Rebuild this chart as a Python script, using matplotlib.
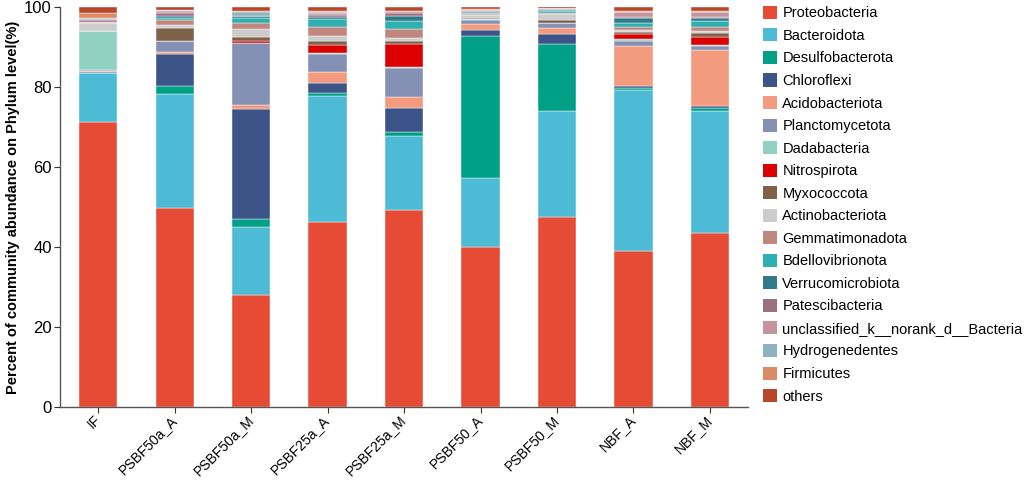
import matplotlib
matplotlib.use("Agg")
import matplotlib.pyplot as plt
import numpy as np
from matplotlib.patches import Patch

plt.rcParams['font.family'] = ['Liberation Sans', 'DejaVu Sans']

samples = ["IF", "PSBF50a_A", "PSBF50a_M", "PSBF25a_A", "PSBF25a_M",
           "PSBF50_A", "PSBF50_M", "NBF_A", "NBF_M"]

phyla = ["Proteobacteria", "Bacteroidota", "Desulfobacterota", "Chloroflexi",
         "Acidobacteriota", "Planctomycetota", "Dadabacteria", "Nitrospirota",
         "Myxococcota", "Actinobacteriota", "Gemmatimonadota", "Bdellovibrionota",
         "Verrucomicrobiota", "Patescibacteria", "unclassified_k__norank_d__Bacteria",
         "Hydrogenedentes", "Firmicutes", "others"]

colors = ["#E64B35", "#4DBBD5", "#00A087", "#3C5488", "#F39B7F", "#8491B4",
          "#91D1C2", "#DC0000", "#7E6148", "#CCCCCC", "#C0877E", "#2FB0B0",
          "#32798A", "#9B7182", "#C4959F", "#8DB3BF", "#DA8B66", "#B8462A"]

# abundance (%) per phylum, in sample order
proteobacteria    = [71.3, 49.8, 28.0, 46.25, 49.25, 40.0, 47.5, 39.0, 43.5]
bacteroidota      = [12.1, 28.4, 16.9, 31.5, 18.5, 17.25, 26.6, 40.3, 30.5]
desulfobacterota  = [0.05, 2.0, 2.0, 0.65, 1.1, 35.5, 16.6, 0.5, 0.65]
chloroflexi       = [0.3, 8.0, 27.6, 2.7, 5.85, 1.45, 2.5, 0.45, 0.6]
acidobacteriota   = [0.3, 0.55, 1.0, 2.7, 2.9, 1.6, 1.65, 10.15, 14.15]
planctomycetota   = [0.2, 2.75, 15.6, 4.4, 7.25, 1.1, 1.15, 1.1, 1.0]
dadabacteria      = [9.7, 0.05, 0.05, 0.3, 0.1, 0.05, 0.05, 0.6, 0.1]
nitrospirota      = [0.05, 0.05, 0.3, 2.0, 5.85, 0.05, 0.05, 1.1, 2.15]
myxococcota       = [0.1, 3.3, 1.2, 1.1, 0.8, 0.4, 0.75, 0.55, 1.0]
actinobacteriota  = [2.0, 0.7, 1.8, 1.1, 0.8, 0.6, 1.4, 0.65, 0.4]
gemmatimonadota   = [0.2, 1.2, 1.6, 2.25, 2.1, 0.3, 0.4, 0.6, 1.0]
bdellovibrionota  = [0.05, 0.5, 1.25, 2.1, 2.1, 0.3, 0.4, 1.1, 1.5]
verrucomicrobiota = [0.05, 0.6, 0.4, 0.6, 1.25, 0.3, 0.2, 1.25, 0.8]
patescibacteria   = [0.5, 0.6, 0.1, 0.4, 0.6, 0.1, 0.2, 0.3, 0.2]
unclassified      = [0.2, 0.5, 0.1, 0.4, 0.5, 0.2, 0.2, 1.1, 1.2]
hydrogenedentes   = [0.1, 0.2, 1.0, 0.3, 0.1, 0.2, 0.1, 0.1, 0.1]
firmicutes        = [1.3, 0.1, 0.2, 0.2, 0.1, 0.2, 0.1, 0.15, 0.1]
others            = [1.5, 0.8, 0.9, 1.0, 0.85, 0.4, 0.35, 1.0, 1.0]

data = [proteobacteria, bacteroidota, desulfobacterota, chloroflexi,
        acidobacteriota, planctomycetota, dadabacteria, nitrospirota,
        myxococcota, actinobacteriota, gemmatimonadota, bdellovibrionota,
        verrucomicrobiota, patescibacteria, unclassified, hydrogenedentes,
        firmicutes, others]

fig = plt.figure(figsize=(10.24, 4.8), dpi=100)
ax = fig.add_axes([0.0586, 0.153, 0.672, 0.832])

x = np.arange(len(samples))
bottom = np.zeros(len(samples))
for vals, col in zip(data, colors):
    vals = np.array(vals)
    ax.bar(x, vals, bottom=bottom, width=0.5, color=col,
           edgecolor='white', linewidth=0.3)
    bottom += vals

ax.set_xlim(-0.5, len(samples) - 0.5)
ax.set_ylim(0, 100)
ax.set_yticks([0, 20, 40, 60, 80, 100])
ax.set_xticks(x)
ax.set_xticklabels(samples, rotation=45, ha='right', va='center',
                   rotation_mode='anchor')

for s in ['top', 'right']:
    ax.spines[s].set_visible(False)
for s in ['left', 'bottom']:
    ax.spines[s].set_color('#555555')
    ax.spines[s].set_linewidth(1.0)
ax.tick_params(axis='both', colors='#333333', length=4, labelcolor='black')
ax.tick_params(axis='y', labelsize=12, pad=2)
ax.tick_params(axis='x', labelsize=10, pad=4)

ax.set_ylabel("Percent of community abundance on Phylum level(%)",
              fontsize=10.5, fontweight='bold', labelpad=3)

handles = [Patch(facecolor=c, edgecolor='none') for c in colors]
fig.legend(handles, phyla, loc='upper left', bbox_to_anchor=(0.739, 1.0),
           frameon=False, fontsize=10.5, handlelength=1.0, handleheight=1.0,
           handletextpad=0.35, labelspacing=0.55, borderaxespad=0)

fig.savefig("out.png", dpi=100)
